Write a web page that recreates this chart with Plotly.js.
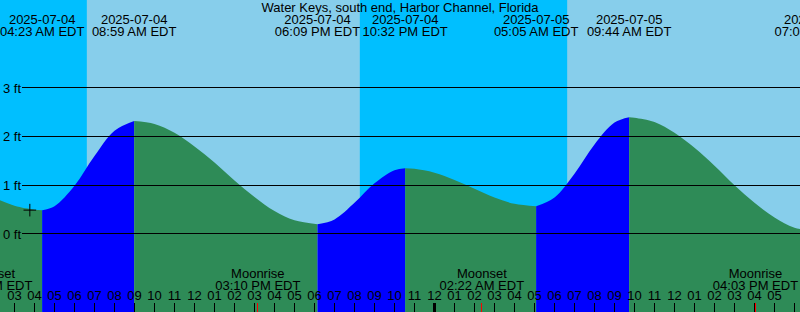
<!DOCTYPE html>
<html><head><meta charset="utf-8">
<script src="https://cdn.plot.ly/plotly-3.0.1.min.js"></script>
<style>html,body{margin:0;padding:0;background:#87CEEB;}#chart{width:800px;height:312px;}</style>
</head><body><div id="chart"></div>
<script>
const stationName = 'Water Keys, south end, Harbor Channel, Florida';
const tideTimes = [
  '2025-07-04 02:00','2025-07-04 03:00','2025-07-04 04:00','2025-07-04 04:23',
  '2025-07-04 05:00','2025-07-04 06:00','2025-07-04 07:00','2025-07-04 08:00','2025-07-04 08:59',
  '2025-07-04 10:00','2025-07-04 11:00','2025-07-04 12:00','2025-07-04 13:00','2025-07-04 14:00',
  '2025-07-04 15:00','2025-07-04 16:00','2025-07-04 17:00','2025-07-04 18:09',
  '2025-07-04 19:00','2025-07-04 20:00','2025-07-04 21:00','2025-07-04 22:00','2025-07-04 22:32',
  '2025-07-04 23:00','2025-07-05 00:00','2025-07-05 01:00','2025-07-05 02:00','2025-07-05 03:00',
  '2025-07-05 04:00','2025-07-05 05:05',
  '2025-07-05 06:00','2025-07-05 07:00','2025-07-05 08:00','2025-07-05 09:00','2025-07-05 09:44',
  '2025-07-05 10:00','2025-07-05 11:00','2025-07-05 12:00','2025-07-05 13:00','2025-07-05 14:00',
  '2025-07-05 15:00','2025-07-05 16:00','2025-07-05 17:00','2025-07-05 18:00','2025-07-05 19:08'
];
const tideHeights = [
  0.74, 0.58, 0.50, 0.49,
  0.57, 0.99, 1.60, 2.12, 2.32,
  2.26, 2.08, 1.80, 1.47, 1.10,
  0.76, 0.47, 0.28, 0.20,
  0.30, 0.64, 1.04, 1.31, 1.35,
  1.34, 1.26, 1.11, 0.93, 0.75,
  0.62, 0.57,
  0.75, 1.24, 1.84, 2.29, 2.40,
  2.39, 2.30, 2.08, 1.77, 1.40,
  1.00, 0.64, 0.34, 0.13, 0.05
];
const tideEventTimes = ['2025-07-04 04:23','2025-07-04 08:59','2025-07-04 18:09','2025-07-04 22:32',
  '2025-07-05 05:05','2025-07-05 09:44','2025-07-05 19:08'];
const moonEventNames = ['Moonset','Moonrise','Moonset','Moonrise'];
const moonEventTimes = ['2025-07-04 01:47','2025-07-04 15:10','2025-07-05 02:22','2025-07-05 16:03'];
const sunsetTimes = ['2025-07-03 20:16','2025-07-04 20:16','2025-07-05 20:16'];
const sunriseTimes = ['2025-07-04 06:37','2025-07-05 06:38','2025-07-06 06:38'];
const gridLevels = [0, 1, 2, 3];
const markTimes = ['2025-07-04 03:46'];
const markHeights = [0.49];

// layout constants
const W = 800, H = 312;
const Y_RANGE = [-1.603, 4.808];
const X_RANGE = ['2025-07-04 02:16:30', '2025-07-05 18:16:30'];
const ZERO_PX = 234, PX_PER_FT = 48.667;
const pxToFt = px => (ZERO_PX - px) / PX_PER_FT;
const FONT = 'Liberation Sans, Arial, sans-serif';
const SKY = '#87CEEB', NIGHT = '#00BFFF', RISE = '#0000FF', FALL = '#2E8B57';

function fmtTime(s) {
  const t = s.split(' ')[1];
  const [h, m] = t.split(':').map(Number);
  const ap = h < 12 ? 'AM' : 'PM';
  let h12 = h % 12; if (h12 === 0) h12 = 12;
  return String(h12).padStart(2, '0') + ':' + String(m).padStart(2, '0') + ' ' + ap + ' EDT';
}
const fmtDate = s => s.split(' ')[0];

const traces = [];
// split curve into rising/falling segments at tide events
const breaks = [0];
tideEventTimes.forEach(t => { const i = tideTimes.indexOf(t); if (i > 0) breaks.push(i); });
for (let k = 0; k < breaks.length - 1; k++) {
  const a = breaks[k], b = breaks[k + 1];
  const sx = tideTimes.slice(a, b + 1), sy = tideHeights.slice(a, b + 1);
  const rising = sy[sy.length - 1] > sy[0];
  traces.push({x: [sx[0], sx[sx.length - 1]], y: [Y_RANGE[0] - 1, Y_RANGE[0] - 1], mode: 'lines',
    line: {width: 0}, hoverinfo: 'skip', showlegend: false});
  traces.push({x: sx, y: sy, mode: 'lines', line: {width: 0, shape: 'spline', smoothing: 1},
    fill: 'tonexty', fillcolor: rising ? RISE : FALL, hoverinfo: 'skip', showlegend: false});
}
const txt = (xs, ys, texts) => ({x: xs, y: ys, mode: 'text', text: texts, textposition: 'middle center',
  textfont: {family: FONT, size: 13, color: '#000'}, cliponaxis: true, hoverinfo: 'skip', showlegend: false});
// tide event labels
traces.push(txt(tideEventTimes, tideEventTimes.map(() => pxToFt(21)), tideEventTimes.map(fmtDate)));
traces.push(txt(tideEventTimes, tideEventTimes.map(() => pxToFt(32.5)), tideEventTimes.map(fmtTime)));
// moon labels
traces.push(txt(moonEventTimes, moonEventTimes.map(() => pxToFt(275)), moonEventNames));
traces.push(txt(moonEventTimes, moonEventTimes.map(() => pxToFt(287)), moonEventTimes.map(fmtTime)));
// mark
traces.push({x: markTimes, y: markHeights, mode: 'markers',
  marker: {symbol: 'cross-thin', size: 9, line: {width: 1, color: '#000'}, color: '#000'},
  hoverinfo: 'skip', showlegend: false});
// empty traces for grid and extra tick axes
traces.push({x: [], y: [], xaxis: 'x2', yaxis: 'y2', showlegend: false});
traces.push({x: [], y: [], xaxis: 'x3', yaxis: 'y', showlegend: false});
traces.push({x: [], y: [], xaxis: 'x4', yaxis: 'y', showlegend: false});

const shapes = sunsetTimes.map((s, i) => ({type: 'rect', xref: 'x', yref: 'paper',
  x0: s, x1: sunriseTimes[i], y0: 0, y1: 1, fillcolor: NIGHT, line: {width: 0}, layer: 'below'}));

const baseX = {type: 'date', range: X_RANGE, showgrid: false, zeroline: false, showline: false,
  fixedrange: true};
const layout = {
  width: W, height: H, margin: {l: 0, r: 0, t: 0, b: 0, pad: 0},
  paper_bgcolor: SKY, plot_bgcolor: 'rgba(0,0,0,0)', showlegend: false,
  font: {family: FONT, size: 13, color: '#000'},
  title: {text: stationName, font: {family: FONT, size: 13, color: '#000'},
    x: 0.5, xanchor: 'center', xref: 'paper', y: 1 - 7.5 / H, yanchor: 'middle', yref: 'container'},
  xaxis: Object.assign({}, baseX, {anchor: 'y', tick0: '2025-07-04 00:00', dtick: 3600000,
    tickformat: '%I', ticks: 'inside', ticklen: 9, tickwidth: 1, tickcolor: '#000',
    ticklabelposition: 'inside', tickfont: {family: FONT, size: 13, color: '#000'},
    layer: 'above traces'}),
  xaxis3: Object.assign({}, baseX, {overlaying: 'x', anchor: 'y', tickmode: 'array',
    tickvals: ['2025-07-05 00:00'], ticks: 'inside', ticklen: 9, tickwidth: 3, tickcolor: '#000',
    showticklabels: false, layer: 'above traces'}),
  xaxis4: Object.assign({}, baseX, {overlaying: 'x', anchor: 'y', tickmode: 'array',
    tickvals: moonEventTimes, ticks: 'inside', ticklen: 9, tickwidth: 1, tickcolor: '#FF0000',
    showticklabels: false, layer: 'above traces'}),
  yaxis: {range: Y_RANGE, showgrid: false, zeroline: false, showticklabels: false, ticks: '',
    showline: false, fixedrange: true},
  xaxis2: Object.assign({}, baseX, {domain: [22 / W, 1], anchor: 'y2', visible: false}),
  yaxis2: {domain: [0, 1], anchor: 'x2', range: Y_RANGE, tickmode: 'array', tickvals: gridLevels,
    ticktext: gridLevels.map(v => v + ' ft'), showgrid: true, gridcolor: '#000', gridwidth: 1,
    zeroline: false, ticks: '', showline: false, tickfont: {family: FONT, size: 13, color: '#000'},
    fixedrange: true},
  shapes: shapes
};
Plotly.newPlot('chart', traces, layout, {staticPlot: true, displayModeBar: false});
</script>
</body></html>
